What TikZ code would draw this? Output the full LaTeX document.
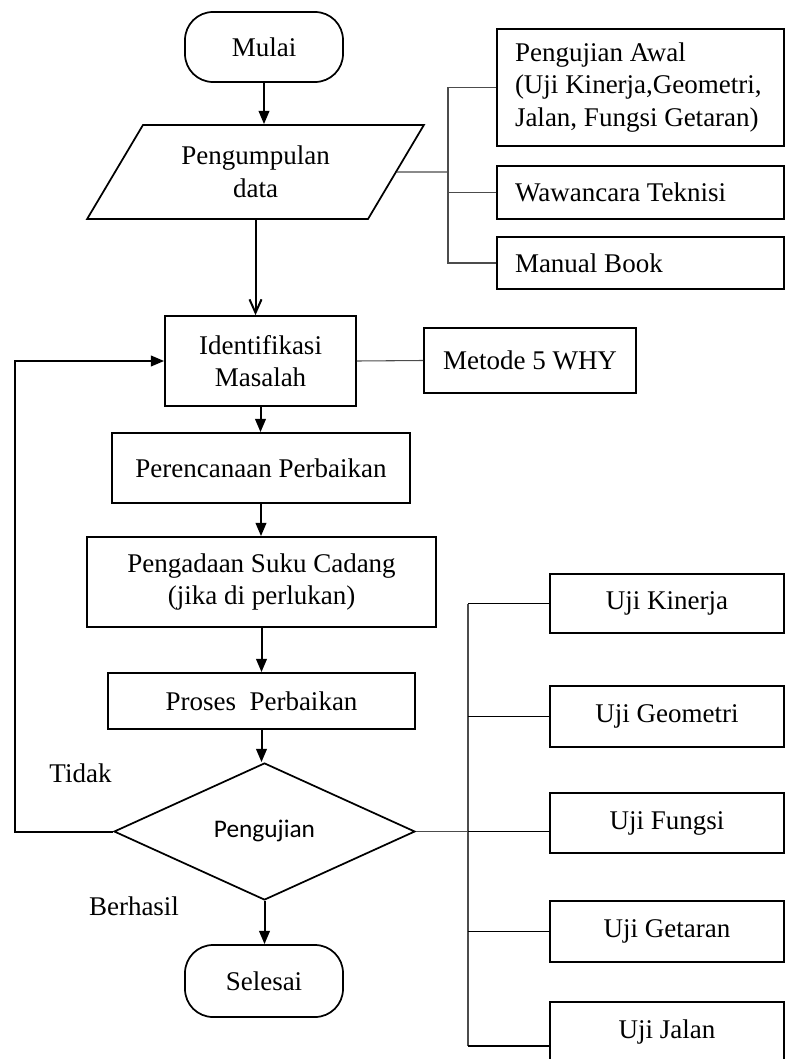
\documentclass[tikz,border=0pt]{standalone}
\usepackage{fontspec}
\setmainfont{Liberation Serif}
\newfontfamily\calibri{Carlito}
\usetikzlibrary{shapes.geometric,arrows.meta}

\begin{document}
\begin{tikzpicture}[x=0.75pt,y=-0.75pt,
  every node/.style={font=\fontsize{20.25}{24.5}\selectfont, inner sep=0pt},
  box/.style 2 args={draw, line width=1.3pt, minimum width=#1*0.75pt,
    minimum height=#2*0.75pt, align=center},
  lbox/.style={draw, line width=1.3pt, minimum height=#1*0.75pt,
    text width=188.25pt, inner xsep=13.5pt, align=flush left},
  term/.style={box={158}{#1}, rounded corners=21pt},
  flow/.style={line width=1.5pt, -{Triangle[length=10pt,width=8pt]}},
  openflow/.style={line width=1.5pt, -{Straight Barb[length=10pt,width=9pt]}},
  tie/.style={line width=0.8pt, draw=black!70},
  branch/.style={line width=1.3pt}
]
\useasboundingbox (0,0) rectangle (786,1059);
\clip (0,0) rectangle (786,1059);

% main column
\node[term=70] (mulai) at (264,47) {Mulai};
\node[draw, line width=1.3pt, trapezium, trapezium left angle=54.5,
  trapezium right angle=125.5, trapezium stretches=true,
  minimum width=252.75pt, minimum height=70.5pt, align=center]
  (pd) at (255.5,172) {Pengumpulan\\data};
\node[box={191}{90}] (id) at (260.5,361) {Identifikasi\\Masalah};
\node[box={298}{70}] (pr) at (261,468) {Perencanaan Perbaikan};
\node[box={349}{90}] (sc) at (261.5,582) {Pengadaan Suku Cadang\\(jika di perlukan)};
\node[box={307}{56}] (ps) at (261.5,701) {Proses\ \ Perbaikan};
\node[draw, diamond, line width=1.3pt, minimum width=225.75pt,
  minimum height=102.75pt, font=\calibri\fontsize{19}{21}\selectfont]
  (dm) at (264.5,831.5) {\raisebox{4pt}{Pengujian}};
\node[term=72] (sl) at (264,981) {Selesai};

% data sources
\node[lbox=117] (aw) at (640.5,87.5) {Pengujian Awal\\(Uji Kinerja,Geometri,\\Jalan, Fungsi Getaran)};
\node[lbox=53] (ww) at (640.5,192.5) {Wawancara Teknisi};
\node[lbox=52] (mb) at (640.5,263) {Manual Book};

% analysis method
\node[box={212}{65}] (why) at (530,360.5) {Metode 5 WHY};

% tests
\node[box={234}{59}] (uk) at (667,603.5) {Uji Kinerja};
\node[box={234}{61}] (ug) at (667,716.5) {Uji Geometri};
\node[box={234}{60}] (uf) at (667,823) {Uji Fungsi};
\node[box={234}{61}] (ut) at (667,931.5) {Uji Getaran};
\node[box={234}{60}] (uj) at (667,1032) {Uji Jalan};

% decision labels
\node (tdk) at (80.5,773) {Tidak};
\node (bh) at (134,906) {Berhasil};

% main flow
\draw[flow] (mulai.south) -- (mulai.south |- pd.north);
\draw[openflow] (pd.south) -- (pd.south |- id.north);
\draw[flow] (id.south) -- (id.south |- pr.north);
\draw[flow] (pr.south) -- (pr.south |- sc.north);
\draw[flow] (sc.south) -- (sc.south |- ps.north);
\draw[flow] (ps.south) -- (ps.south |- dm.north);
\draw[flow] (dm.south) -- (dm.south |- sl.north);
\coordinate (lp) at (15,831.5);
\draw[flow] (dm.west) -- (lp) |- (id.west);

% data source bracket
\coordinate (ja) at (448,172);
\draw[tie] (pd.east) -- (ja);
\draw[tie] (aw.west) -- (aw.west -| ja) -- (mb.west -| ja) -- (mb.west);
\draw[tie] (ww.west) -- (ww.west -| ja);

% method link
\draw[tie] (id.east) -- (why.west);

% test bracket
\coordinate (jb) at (468,603.5);
\coordinate (jj) at (468,1046);
\draw[tie] (jb) -- (jj);
\draw[branch] (jb) -- (uk.west);
\draw[branch] (ug.west -| jb) -- (ug.west);
\draw[tie] (dm.east) -- (dm.east -| jb);
\draw[branch] (dm.east -| jb) -- (dm.east -| uf.west);
\draw[branch] (ut.west -| jb) -- (ut.west);
\draw[branch] (jj) -- (jj -| uj.west);
\end{tikzpicture}
\end{document}
